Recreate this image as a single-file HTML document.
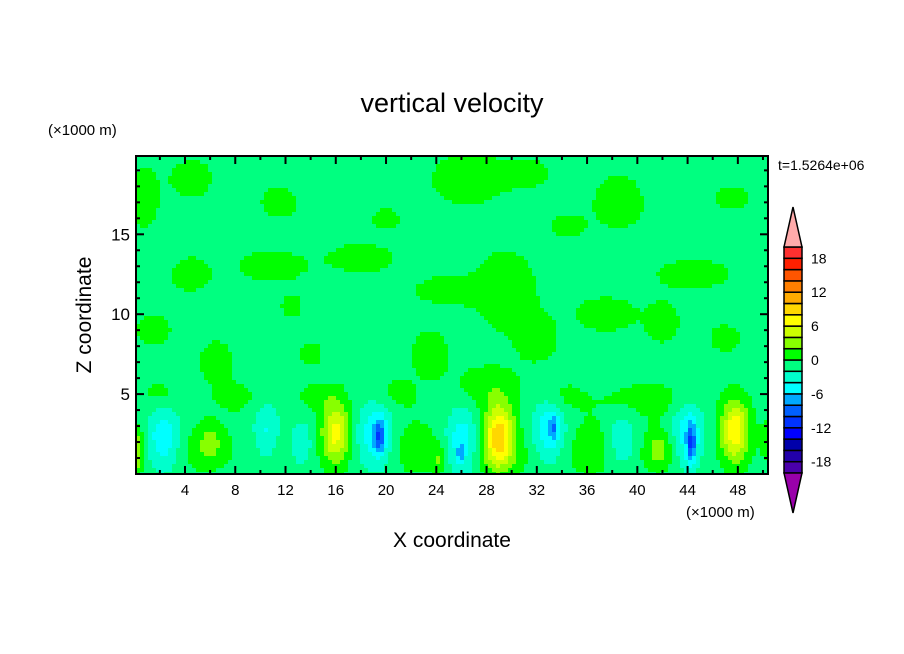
<!DOCTYPE html>
<html><head><meta charset="utf-8"><style>
body{margin:0;background:#fff;}
svg{display:block;font-family:"Liberation Sans",sans-serif;}
</style></head><body>
<svg id="chart" width="904" height="654" viewBox="0 0 904 654">
<rect width="904" height="654" fill="#fff"/>
<g id="field"></g>
<g id="axes"></g>
<g id="cbar"></g>
<text x="452" y="112" font-size="27" text-anchor="middle">vertical velocity</text>
<text x="48" y="135" font-size="15">(×1000 m)</text>
<text x="778" y="170" font-size="14">t=1.5264e+06</text>
<text x="686" y="517" font-size="15">(×1000 m)</text>
<text x="452" y="547" font-size="21" text-anchor="middle">X coordinate</text>
<text transform="translate(91,315) rotate(-90)" font-size="21" text-anchor="middle">Z coordinate</text>
</svg>
<script>
// data: blobs [x(km), z(km), amplitude, sigmaX, sigmaZ]
const lowBlobs = [
 [0.2,1.5,5,0.5,1.4],[2.3,2.2,-5,1.3,2.0],[6.0,2.0,2.8,1.0,1.2],[10.5,2.5,-3.8,1.1,1.9],
 [13.2,1.8,-3.5,1.1,1.6],[16.0,2.6,7.5,1.1,1.9],[19.5,2.3,-6,0.45,1.0],[19.2,2.5,-5,1.5,2.2],
 [24.2,0.9,2.5,0.5,0.8],[26.0,1.9,-5,1.3,2.1],[25.9,1.3,-4,0.3,0.5],
 [29.0,2.4,10,1.2,2.0],[33.0,2.6,-5.2,1.3,2.1],[33.4,2.9,-3.5,0.3,0.8],
 [38.8,2.0,-3.8,1.3,1.8],[41.8,1.6,2.8,1.0,1.1],[44.3,1.8,-6.5,0.35,1.3],[44.0,2.4,-5,1.4,2.2],
 [47.8,2.7,8.5,1.1,1.9],[50.3,2.0,1.5,0.6,1.5]
];
const greenBlobs = [
 [0.8,17.3,2.0,1.2,1.9],[4.5,18.5,2.0,1.7,1.2],[11.5,17.0,1.9,1.5,1.0],[26.5,18.5,2.2,2.8,1.6],
 [31.0,18.8,2.0,2.0,0.9],[38.5,17.0,2.1,2.0,1.7],[47.5,17.3,1.7,1.5,0.8],[4.5,12.5,1.9,1.7,1.1],
 [11.0,13.0,2.0,2.7,1.0],[18.0,13.5,2.0,2.7,0.9],[25.0,11.5,2.0,2.7,0.9],[29.5,11.5,2.3,2.4,2.4],
 [32.0,8.5,2.0,1.7,1.5],[37.5,10.0,2.0,2.4,1.1],[44.5,12.5,2.1,2.9,0.9],[42.0,9.5,1.8,1.4,1.4],
 [12.5,10.5,1.8,0.9,0.7],[1.5,9.0,1.8,1.5,1.0],[6.5,7.0,1.9,1.4,1.4],[14.0,7.5,1.8,1.0,0.8],
 [23.5,7.5,2.0,1.5,1.5],[20.5,5.0,1.7,2.0,1.1],[28.0,5.5,1.9,2.7,1.3],[34.0,4.8,1.7,1.7,1.0],
 [41.0,4.6,2.0,3.8,1.1],[47.0,8.5,1.7,1.4,0.9],[8.0,4.8,1.7,1.7,0.9],[2.0,5.0,1.7,1.4,0.9],
 [14.5,4.8,1.7,1.7,0.9],[34.5,15.5,1.7,1.5,0.8],[20.0,16.0,1.7,1.2,0.7],
 [5,1.5,1.3,3,1.6],[12,1.5,1.2,3,1.6],[22,1.8,1.6,2.5,1.8],[36.5,1.8,1.6,2,1.8],[30,1.2,1.1,8,1.3],[42,1.5,1.3,4,1.6]
];
const levels = [-18,-16,-14,-12,-10,-8,-6,-4,-2,0,2,4,6,8,10,12,14,16,18];
const levelColors = ["#9900aa","#4a00aa","#2200aa","#0000aa","#0000ff","#0033ff","#0060ff","#00a8ff","#00ffff","#00ffcc","#00ff80","#00ff00","#88ff00","#ccff00","#ffff00","#ffd700","#ffaa00","#ff7f00","#ff5500","#ff2000","#ff3030","#ffaaaa"];
const xTicks = [4,8,12,16,20,24,28,32,36,40,44,48];
const yTicks = [5,10,15];
const cbLabels = [18,12,6,0,-6,-12,-18];

const NS="http://www.w3.org/2000/svg";
const X0=136,X1=768,Y0=156,Y1=474;
const xmin=0.1,xmax=50.4,zmin=0,zmax=19.9;
const sx=v=>X0+(v-xmin)/(xmax-xmin)*(X1-X0);
const sy=v=>Y1-(v-zmin)/(zmax-zmin)*(Y1-Y0);
function mk(tag,attrs,parent){const e=document.createElementNS(NS,tag);for(const k in attrs)e.setAttribute(k,attrs[k]);parent.appendChild(e);return e;}
function value(x,z){
 let v=-0.8;
 for(const b of greenBlobs){const dx=(x-b[0])/b[3],dz=(z-b[1])/b[4];v+=b[2]*Math.exp(-(dx*dx+dz*dz));}
 for(const b of lowBlobs){const dx=(x-b[0])/b[3],dz=(z-b[1])/b[4];v+=b[2]*Math.exp(-(dx*dx+dz*dz));}
 return v;
}
function colorOf(v){let i=0;while(i<levels.length&&v>=levels[i])i++;return levelColors[i+1>20?20:i+1];}
const field=document.getElementById('field');
const step=4;
for(let py=Y0;py<Y1;py+=step){
 for(let px=X0;px<X1;px+=step){
  const x=xmin+(px+step/2-X0)/(X1-X0)*(xmax-xmin);
  const z=zmin+(Y1-(py+step/2))/(Y1-Y0)*(zmax-zmin);
  const r=mk('rect',{x:px,y:py,width:Math.min(step,X1-px)+0.5,height:Math.min(step,Y1-py)+0.5,fill:colorOf(value(x,z))},field);
  
  
 }
}
const ax=document.getElementById('axes');
const frame=mk('rect',{x:X0,y:Y0,width:X1-X0,height:Y1-Y0,fill:'none',stroke:'#000','stroke-width':2},ax);


for(let v=2;v<50.4;v+=2){const X=sx(v),L=(v%4===0)?8:4;
 mk('line',{x1:X,y1:Y1,x2:X,y2:Y1-L,stroke:'#000','stroke-width':2},ax);
 mk('line',{x1:X,y1:Y0,x2:X,y2:Y0+L,stroke:'#000','stroke-width':2},ax);}
for(let v=1;v<20;v++){const Y=sy(v),L=(v%5===0)?8:4;
 mk('line',{x1:X0,y1:Y,x2:X0+L,y2:Y,stroke:'#000','stroke-width':2},ax);
 mk('line',{x1:X1,y1:Y,x2:X1-L,y2:Y,stroke:'#000','stroke-width':2},ax);}
for(const t of xTicks){const e=mk('text',{x:sx(t),y:Y1+21,'font-size':15,'text-anchor':'middle'},ax);e.textContent=t;
 
 }
for(const t of yTicks){const e=mk('text',{x:X0-6,y:sy(t)+6,'font-size':17,'text-anchor':'end'},ax);e.textContent=t;
 
 }
const cb=document.getElementById('cbar');
const CX=784,CW=18,CT=247,CB=473,bh=(CB-CT)/20;
for(let i=0;i<20;i++){const r=mk('rect',{x:CX,y:CB-(i+1)*bh,width:CW,height:bh,fill:levelColors[i+1],stroke:'#000','stroke-width':1.5},cb);
 
 }
const tu=mk('polygon',{points:`${CX},${CT} ${CX+CW},${CT} ${CX+CW/2},207`,fill:levelColors[21],stroke:'#000','stroke-width':1.5},cb);


const td=mk('polygon',{points:`${CX},${CB} ${CX+CW},${CB} ${CX+CW/2},513`,fill:levelColors[0],stroke:'#000','stroke-width':1.5},cb);


for(const l of cbLabels){const Y=CB-(l+20)/2*bh;const e=mk('text',{x:811,y:Y+5,'font-size':14},cb);e.textContent=l;
 
 }
</script>
</body></html>
